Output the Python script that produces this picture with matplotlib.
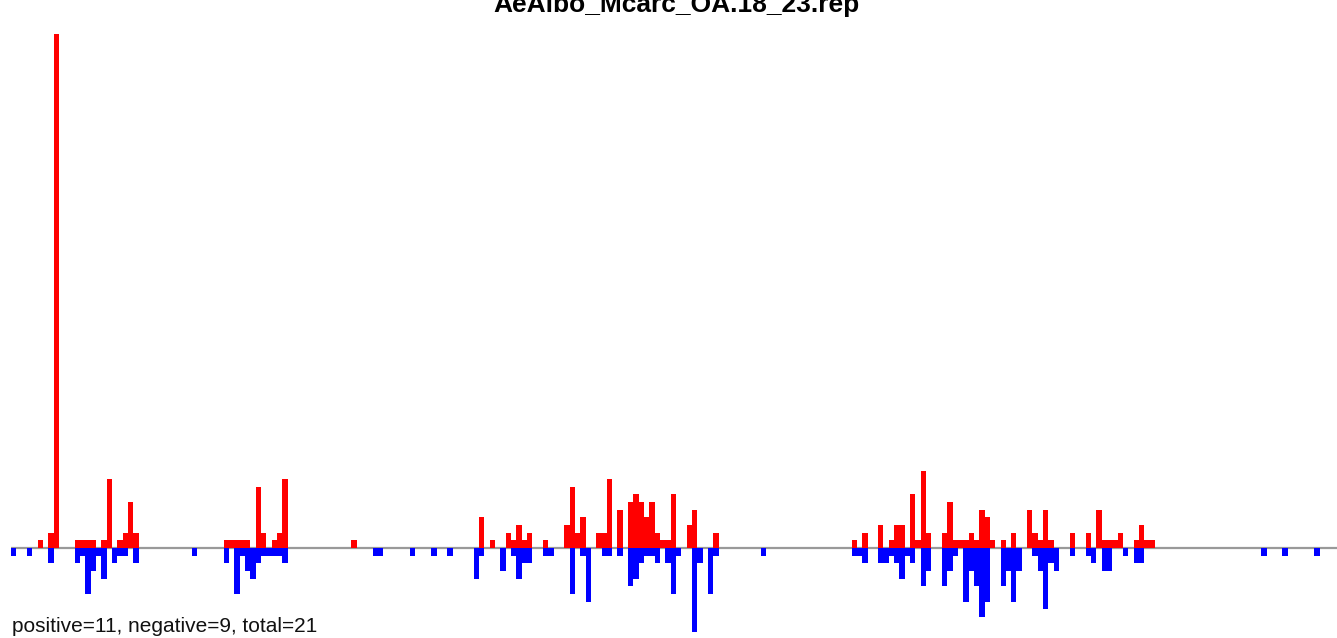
import numpy as np
import matplotlib
matplotlib.use('Agg')
import matplotlib.pyplot as plt

plt.rcParams['font.family'] = ['Liberation Sans', 'DejaVu Sans']

title = "AeAlbo_Mcarc_OA.18_23.rep"
summary = "positive=11, negative=9, total=21"
n_bins = 246

# positive counts (red), by bin
pos_idx = [5, 7, 8, 12, 13, 14, 15, 17, 18, 20, 21, 22, 23,
           40, 41, 42, 43, 44, 46, 47, 49, 50, 51,
           64,
           88, 90, 93, 94, 95, 96, 97, 100,
           104, 105, 106, 107, 110, 111, 112, 114, 116, 117, 118, 119, 120,
           121, 122, 123, 124, 127, 128, 132,
           158, 160, 163, 165, 166, 167, 169, 170, 171, 172, 175, 176, 177,
           178, 179, 180, 181, 182, 183, 184, 186, 188, 191, 192, 193, 194,
           195, 199, 202, 204, 205, 206, 207, 208, 211, 212, 213, 214]
pos_val = [1, 2, 67, 1, 1, 1, 1, 1, 9, 1, 2, 6, 2,
           1, 1, 1, 1, 1, 8, 2, 1, 2, 9,
           1,
           4, 1, 2, 1, 3, 1, 2, 1,
           3, 8, 2, 4, 2, 2, 9, 5, 6, 7, 6, 4, 6,
           2, 1, 1, 7, 3, 5, 2,
           1, 2, 3, 1, 3, 3, 7, 1, 10, 2, 2, 6, 1,
           1, 1, 2, 1, 5, 4, 1, 1, 2, 5, 2, 1, 5,
           1, 2, 2, 5, 1, 1, 1, 2, 1, 3, 1, 1]

# negative counts (blue), by bin
neg_idx = [0, 3, 7, 12, 13, 14, 15, 16, 17, 19, 20, 21, 23,
           34,
           40, 42, 43, 44, 45, 46, 47, 48, 49, 50, 51,
           68, 69, 75, 79, 82,
           87, 88, 92, 94, 95, 96, 97, 100, 101,
           105, 107, 108, 111, 112, 114, 116, 117, 118, 119, 120, 121, 123,
           124, 125, 128, 129, 131, 132,
           141,
           158, 159, 160, 163, 164, 165, 166, 167, 168, 169, 171, 172, 175,
           176, 177, 179, 180, 181, 182, 183, 186, 187, 188, 189, 192, 193,
           194, 195, 196, 199, 202, 203, 205, 206, 209, 211, 212,
           235, 239, 245]
neg_val = [1, 1, 2, 2, 1, 6, 3, 1, 4, 2, 1, 1, 2,
           1,
           2, 6, 1, 3, 4, 2, 1, 1, 1, 1, 2,
           1, 1, 1, 1, 1,
           4, 1, 3, 1, 4, 2, 2, 1, 1,
           6, 1, 7, 1, 1, 1, 5, 4, 2, 1, 1, 2, 2,
           6, 1, 11, 2, 6, 1,
           1,
           1, 1, 2, 2, 2, 1, 2, 4, 1, 2, 5, 3, 5,
           3, 1, 7, 3, 5, 9, 7, 5, 3, 7, 3, 1, 3,
           8, 2, 3, 1, 1, 2, 3, 3, 1, 2, 2,
           1, 1, 1]

W, H = 1337, 638
x0_px, bin_px = 11.0, 5.32
base_px, unit_px = 548.0, 7.67

fig = plt.figure(figsize=(W / 100, H / 100), dpi=100)
ax = fig.add_axes([0, 0, 1, 1])
ax.set_xlim(-x0_px / bin_px, (W - x0_px) / bin_px)
ax.set_ylim(-(H - base_px) / unit_px, base_px / unit_px)
ax.axis('off')

ax.hlines(0, 0, ax.get_xlim()[1], color='#999999', lw=1.6, zorder=1)
ax.bar(pos_idx, pos_val, width=1, align='edge', color='#ff0000',
       linewidth=0, zorder=2)
ax.bar(neg_idx, -np.array(neg_val), width=1, align='edge', color='#0000ff',
       linewidth=0, zorder=2)

fig.text(676.5 / W, 1 - 12 / H, title, ha='center', va='baseline',
         fontsize=19, fontweight='bold')
fig.text(12 / W, (H - 632) / H, summary, ha='left', va='baseline',
         fontsize=15, color='#111111')

fig.savefig('out.png', dpi=100)
